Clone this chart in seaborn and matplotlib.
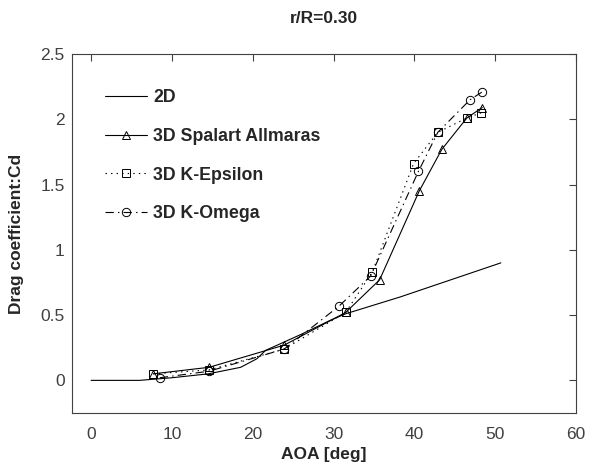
import matplotlib
matplotlib.use("Agg")
import matplotlib.pyplot as plt
import seaborn as sns
import pandas as pd

# ---- data ----
aoa_2d = [0, 6, 10, 14.5, 18.5, 20.5, 21.6, 23.4, 25.9, 29.6, 31.5, 38.3, 50.7]
cd_2d = [0, 0, 0.02, 0.05, 0.10, 0.165, 0.23, 0.28, 0.35, 0.46, 0.51, 0.64, 0.90]

aoa_sa = [7.7, 14.6, 23.9, 31.5, 35.7, 40.6, 43.4, 46.5, 48.4]
cd_sa = [0.05, 0.10, 0.27, 0.52, 0.77, 1.45, 1.77, 2.01, 2.09]

aoa_ke = [7.7, 14.6, 23.9, 31.5, 34.8, 39.9, 42.9, 46.5, 48.3]
cd_ke = [0.05, 0.08, 0.24, 0.52, 0.83, 1.66, 1.90, 2.01, 2.05]

aoa_ko = [8.5, 14.6, 23.9, 30.7, 34.6, 40.5, 42.9, 46.9, 48.4]
cd_ko = [0.02, 0.07, 0.24, 0.57, 0.80, 1.60, 1.90, 2.15, 2.21]

labels = ["2D", "3D Spalart Allmaras", "3D K-Epsilon", "3D K-Omega"]
x_ticks = [0, 10, 20, 30, 40, 50, 60]
y_ticks = [0, 0.5, 1, 1.5, 2, 2.5]
y_tick_labels = ["0", "0.5", "1", "1.5", "2", "2.5"]

sns.set_style("white")
plt.rcParams["font.family"] = ["Liberation Sans", "DejaVu Sans"]
plt.rcParams["lines.scale_dashes"] = False

fig = plt.figure(figsize=(5.92, 4.71), dpi=100)
ax = fig.add_axes([71.7 / 592, 1 - 413 / 471, (576 - 71.7) / 592, (413 - 54) / 471])

series = [
    (aoa_2d, cd_2d, labels[0], "-", None),
    (aoa_sa, cd_sa, labels[1], "-", "^"),
    (aoa_ke, cd_ke, labels[2], (0, (1, 3)), "s"),
    (aoa_ko, cd_ko, labels[3], (0, (6, 3, 1, 3)), "o"),
]

for xs, ys, lab, ls, mk in series:
    df = pd.DataFrame({"AOA": xs, "Cd": ys})
    kws = dict(color="black", linewidth=0.8, linestyle=ls, label=lab)
    if mk is not None:
        kws.update(marker=mk, markersize=6, markerfacecolor="none",
                   markeredgecolor="black", markeredgewidth=0.7)
    sns.lineplot(data=df, x="AOA", y="Cd", ax=ax, legend=False, **kws)

ax.set_xlim(-2.4, 60)
ax.set_ylim(-0.25, 2.5)
ax.set_xticks(x_ticks)
ax.set_yticks(y_ticks)
ax.set_yticklabels(y_tick_labels)

ax.tick_params(axis="both", direction="in", length=5, width=0.8, color="#404040",
               top=True, right=True, labelsize=12.5, labelcolor="#404040")
ax.tick_params(axis="x", pad=10)
ax.tick_params(axis="y", pad=5)
for sp in ax.spines.values():
    sp.set_color("#404040")
    sp.set_linewidth(0.8)
    sp.set_visible(True)

ax.set_title("r/R=0.30", fontsize=12.5, fontweight="bold", pad=22)
ax.set_xlabel("AOA [deg]", fontsize=12.5, fontweight="bold", labelpad=4)
ax.set_ylabel("Drag coefficient:Cd", fontsize=12.5, fontweight="bold", labelpad=12)

leg = ax.legend(loc="upper left", bbox_to_anchor=(0.066, 0.902), frameon=False,
                borderpad=0, borderaxespad=0, handlelength=2.35, handletextpad=0.35,
                labelspacing=1.22, prop={"size": 12.8, "weight": "bold"})

fig.savefig("out.png", dpi=100)
